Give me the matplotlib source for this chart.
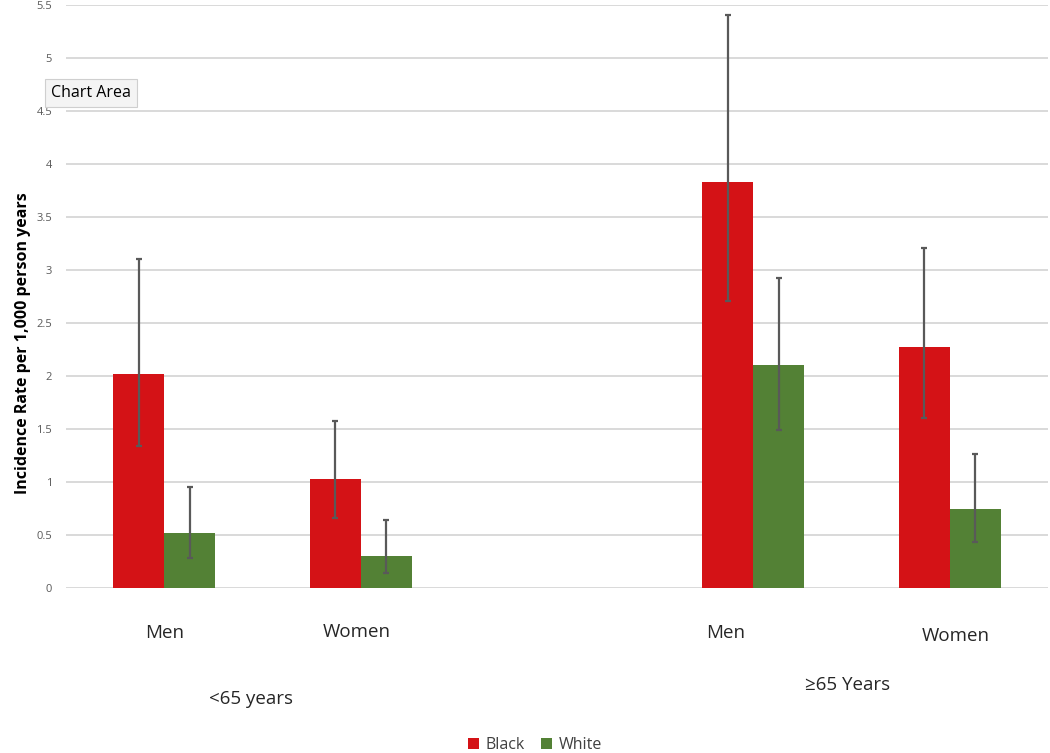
import numpy as np
import matplotlib.pyplot as plt
from matplotlib.ticker import FuncFormatter
import matplotlib.transforms as mtransforms

plt.rcParams['font.family'] = ['Open Sans', 'DejaVu Sans']

# data
groups = ["<65 years", "≥65 Years"]
categories = ["Men", "Women", "Men", "Women"]
slots = [0, 1, 3, 4]  # slot 2 is the empty gap between age groups

black = [2.02, 1.03, 3.83, 2.27]
black_lo = [1.34, 0.66, 2.71, 1.60]
black_hi = [3.10, 1.58, 5.41, 3.21]

white = [0.52, 0.30, 2.10, 0.75]
white_lo = [0.28, 0.14, 1.49, 0.43]
white_hi = [0.95, 0.64, 2.92, 1.26]

yticks = [0, 0.5, 1, 1.5, 2, 2.5, 3, 3.5, 4, 4.5, 5, 5.5]

RED = "#d41216"
GREEN = "#538135"
ERR = "#595959"

fig = plt.figure(figsize=(10.5, 7.53), dpi=100)
ax = fig.add_axes([66 / 1050, 1 - 588 / 753, (1048 - 66) / 1050, (588 - 5) / 753])

x = np.array(slots, dtype=float)
w = 0.26

b = np.array(black)
wh = np.array(white)
b_err = [b - np.array(black_lo), np.array(black_hi) - b]
w_err = [wh - np.array(white_lo), np.array(white_hi) - wh]

ax.bar(x - w / 2, b, width=w, color=RED, label="Black", zorder=2)
ax.bar(x + w / 2, wh, width=w, color=GREEN, label="White", zorder=2)
ax.errorbar(x - w / 2, b, yerr=b_err, fmt="none", ecolor=ERR, elinewidth=1.6,
            capsize=2.5, capthick=1.6, zorder=3)
ax.errorbar(x + w / 2, wh, yerr=w_err, fmt="none", ecolor=ERR, elinewidth=1.6,
            capsize=2.5, capthick=1.6, zorder=3)

ax.set_xlim(-0.5, 4.5)
ax.set_ylim(0, 5.5)
ax.set_yticks(yticks)
ax.yaxis.set_major_formatter(FuncFormatter(lambda v, p: f"{v:g}"))
ax.tick_params(axis="y", length=0, pad=10, labelsize=8, labelcolor="#595959")
ax.set_xticks([])
ax.grid(axis="y", color="#d9d9d9", linewidth=1.4, zorder=0)
for s in ax.spines.values():
    s.set_visible(False)

ax.set_ylabel("Incidence Rate per 1,000 person years", fontsize=11.5,
              fontweight="bold", color="black")
ax.yaxis.set_label_coords(-0.036, 0.42)

# category labels under the bars
trans = mtransforms.blended_transform_factory(ax.transData, fig.transFigure)
cat_dx = [0.0, -0.02, -0.14, 0.03]
cat_y = [633, 632, 633, 636]
for xi, lab, dx, py in zip(slots, categories, cat_dx, cat_y):
    ax.text(xi + dx, 1 - py / 753, lab, transform=trans, ha="center", va="center",
            fontsize=13.5, color="#262626")

grp_x = [0.44, 3.48]
grp_y = [699, 685]
for gx, lab, py in zip(grp_x, groups, grp_y):
    ax.text(gx, 1 - py / 753, lab, transform=trans, ha="center", va="center",
            fontsize=13.5, color="#262626")

# the "Chart Area" hover tooltip captured in the screenshot
fig.text(91 / 1050, 1 - 93 / 753, "Chart Area", ha="center", va="center", fontsize=11.5,
         color="black",
         bbox=dict(boxstyle="square,pad=0.35", facecolor="#f4f4f4", edgecolor="#cfcfcf",
                   linewidth=0.8))

leg = fig.legend(loc="center", bbox_to_anchor=(535 / 1050, 1 - 745 / 753), ncol=2,
                 frameon=False, fontsize=11.5, handlelength=0.7, handleheight=0.7,
                 handletextpad=0.4, columnspacing=1.0)
for t in leg.get_texts():
    t.set_color("#404040")

fig.savefig("out.png", dpi=100, facecolor="white")
